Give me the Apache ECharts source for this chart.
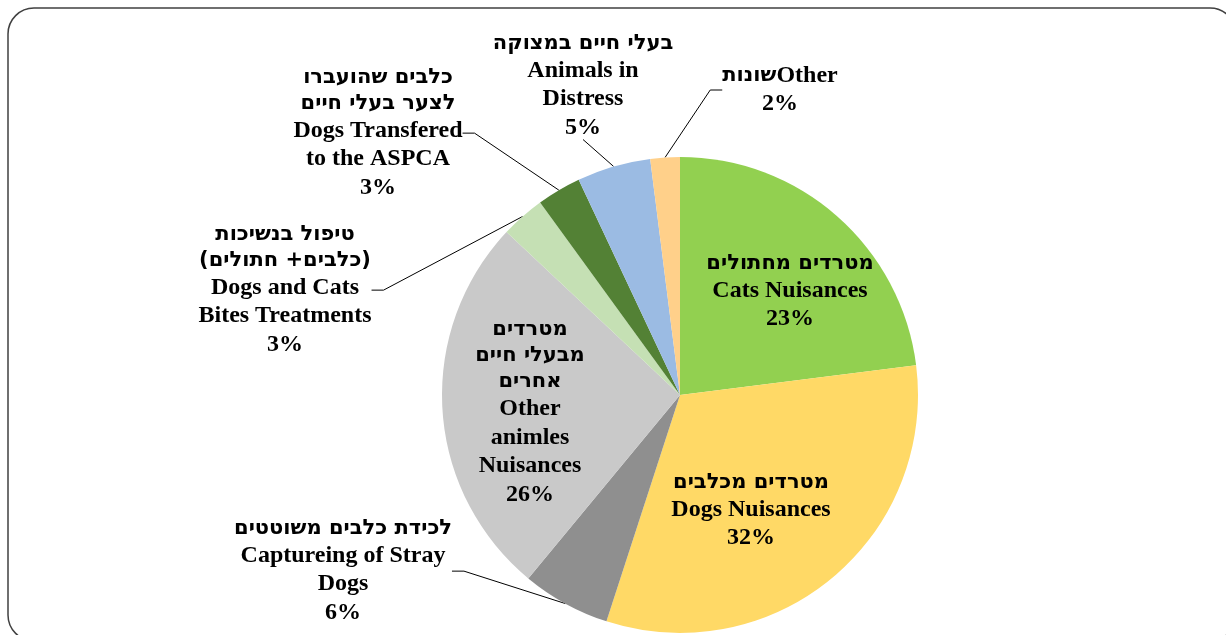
<!DOCTYPE html>
<html>
<head>
<meta charset="utf-8">
<script src="https://cdn.jsdelivr.net/npm/echarts@6/dist/echarts.min.js"></script>
<style>
  html, body { margin: 0; padding: 0; background: #fff; }
  #chart { width: 1226px; height: 635px; }
</style>
</head>
<body>
<div id="chart"></div>
<script>
// slices, clockwise from 12 o'clock
const hebrewNames = ['מטרדים מחתולים', 'מטרדים מכלבים', 'לכידת כלבים משוטטים', 'מטרדים\nמבעלי חיים\nאחרים',
    'טיפול בנשיכות\n(כלבים+ חתולים)', 'כלבים שהועברו\nלצער בעלי חיים', 'בעלי חיים במצוקה', 'שונות'];
const englishNames = ['Cats Nuisances', 'Dogs Nuisances', 'Captureing of Stray\nDogs', 'Other\nanimles\nNuisances',
    'Dogs and Cats\nBites Treatments', 'Dogs Transfered\nto the ASPCA', 'Animals in\nDistress', 'Other'];
const shares = [23, 32, 6, 26, 3, 3, 5, 2];

const colors = ['#92D050', '#FFD966', '#8F8F8F', '#C9C9C9', '#C5E0B4', '#538135', '#9BBBE3', '#FFD08A'];
const insideLabel = [true, true, false, true, false, false, false, false];
// label block centres (px)
const labelSpots = [[790, 292], [751, 511], [343, 571], [530, 413], [285, 290], [378, 133], [583, 86], [780, 90]];

const wrap = (txt, style) => txt.split('\n').map(l => '{' + style + '|' + l + '}').join('\n');

const myChart = echarts.init(document.getElementById('chart'));
myChart.setOption({
    animation: false,
    graphic: [{
        type: 'rect',
        silent: true,
        z: -1,
        shape: {x: 8, y: 8, width: 1228, height: 633, r: 26},
        style: {fill: 'none', stroke: '#404040', lineWidth: 1.5}
    }],
    series: [{
        type: 'pie',
        center: [680, 395],
        radius: 238,
        startAngle: 90,
        clockwise: true,
        avoidLabelOverlap: false,
        silent: true,
        emphasis: {disabled: true},
        data: shares.map((v, i) => ({
            value: v,
            name: englishNames[i],
            itemStyle: {color: colors[i]},
            label: {position: insideLabel[i] ? 'inside' : 'outside'},
            labelLine: {show: !insideLabel[i], length2: i === 6 ? 0 : 12}
        })),
        label: {
            color: '#000',
            formatter: p => {
                const i = p.dataIndex;
                const pct = '{e|' + shares[i] + '%}';
                if (englishNames[i] === 'Other') {
                    return '{h|' + hebrewNames[i] + '}{e|' + englishNames[i] + '}\n' + pct;
                }
                return wrap(hebrewNames[i], 'h') + '\n' + wrap(englishNames[i], 'e') + '\n' + pct;
            },
            rich: {
                h: {
                    fontFamily: '"DejaVu Sans", sans-serif',
                    fontWeight: 'bold',
                    fontSize: 21,
                    lineHeight: 26,
                    color: '#000',
                    align: 'center'
                },
                e: {
                    fontFamily: '"Liberation Serif", "Times New Roman", serif',
                    fontWeight: 'bold',
                    fontSize: 24,
                    lineHeight: 28.5,
                    color: '#000',
                    align: 'center'
                }
            }
        },
        labelLine: {
            length: 10,
            length2: 12,
            lineStyle: {color: '#000', width: 1}
        },
        labelLayout: p => ({
            x: labelSpots[p.dataIndex][0],
            y: labelSpots[p.dataIndex][1],
            align: 'center',
            verticalAlign: 'middle'
        })
    }]
});
</script>
</body>
</html>
